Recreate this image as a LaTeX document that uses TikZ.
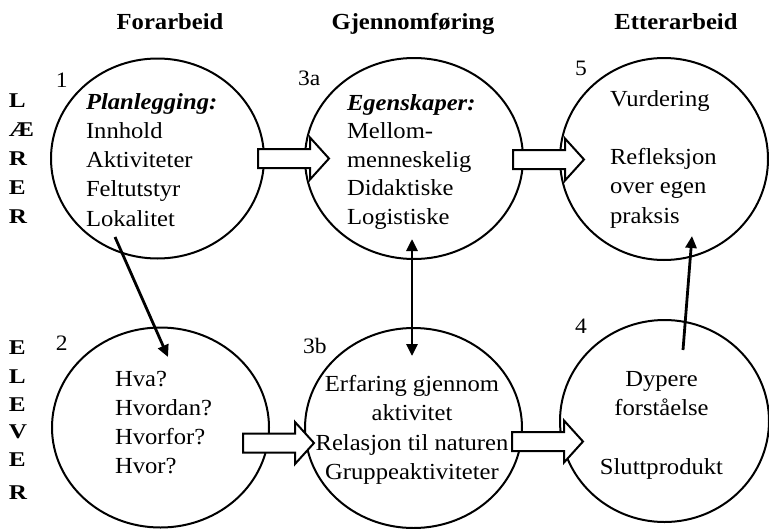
\documentclass[tikz,border=0pt]{standalone}
\usepackage{fontspec}
\setmainfont{Liberation Serif}[FakeStretch=1.07]
\newfontfamily\widebold{Liberation Serif}[FakeStretch=1.2]
\usetikzlibrary{shapes.geometric,arrows.meta}

\tikzset{
  bubble/.style 2 args={ellipse, draw, line width=2pt, minimum width=#1pt, minimum height=#2pt},
  body/.style={font=\fontsize{23}{28}\selectfont},
  heading/.style={font=\fontsize{23}{28}\selectfont\bfseries, anchor=base},
  sideletter/.style={font=\fontsize{21}{24}\selectfont\widebold\bfseries, anchor=base west},
  stepno/.style={font=\fontsize{22}{26}\selectfont, anchor=base west},
  linkarrow/.style={line width=2.8pt, -{Triangle[length=12pt,width=11pt]}},
  fatarrow/.pic={
    \draw[line width=2pt, fill=white, line join=miter]
      (0,-9.5) -- (52,-9.5) -- (52,-21) -- (71,0) -- (52,21) -- (52,9.5) -- (0,9.5) -- cycle;
  }
}

\begin{document}
\begin{tikzpicture}[x=1pt, y=-1pt, every node/.style={inner sep=0pt, outer sep=0pt}]
\useasboundingbox (0,0) rectangle (769,528);

% column headings
\node[heading] (hfor) at (170,29) {Forarbeid};
\node[heading] (hgjen) at (413,29) {Gjennomføring};
\node[heading] (hett) at (676,29) {Etterarbeid};

% row labels
\foreach \ch/\yy [count=\i] in {L/107, Æ/136, R/165, E/194, R/223}
  \node[sideletter] (lr\i) at (9,\yy) {\ch};
\foreach \ch/\yy [count=\i] in {E/354, L/383, E/411, V/438, E/466, R/499}
  \node[sideletter] (el\i) at (9,\yy) {\ch};

% the six stages
\node[bubble={213}{200}] (c1) at (157.5,158.5) {};
\node[bubble={218}{201}] (c3a) at (414,158.5) {};
\node[bubble={208}{202}] (c5) at (664,159) {};
\node[bubble={217}{200}] (c2) at (160.5,427.5) {};
\node[bubble={217}{200}] (c3b) at (413.5,428) {};
\node[bubble={209}{202}] (c4) at (664.5,421) {};

% stage numbers
\node[stepno] (n1) at (56,87) {1};
\node[stepno] (n3a) at (298,85) {3a};
\node[stepno] (n5) at (575,75) {5};
\node[stepno] (n2) at (56,350) {2};
\node[stepno] (n3b) at (303,353) {3b};
\node[stepno] (n4) at (575,333) {4};

% texts inside the stages
\foreach \t [count=\i] in {{\bfseries\itshape Planlegging:}, Innhold, Aktiviteter, Feltutstyr, Lokalitet}
  \node[body, anchor=base west] (t1-\i) at (86,{109+29.3*(\i-1)}) {\t};
\foreach \t [count=\i] in {{\bfseries\itshape Egenskaper:}, Mellom-, menneskelig, Didaktiske, Logistiske}
  \node[body, anchor=base west] (t3a-\i) at (347,{110+28.6*(\i-1)}) {\t};
\node[body, anchor=base west] (t5-0) at (610,106) {Vurdering};
\foreach \t [count=\i] in {Refleksjon, over egen, praksis}
  \node[body, anchor=base west] (t5-\i) at (610,{164.5+29.25*(\i-1)}) {\t};
\foreach \t [count=\i] in {Hva?, Hvordan?, Hvorfor?, Hvor?}
  \node[body, anchor=base west] (t2-\i) at (115,{386+29*(\i-1)}) {\t};
\foreach \t [count=\i] in {Erfaring gjennom, aktivitet, Relasjon til naturen, Gruppeaktiviteter}
  \node[body, anchor=base] (t3b-\i) at (412,{391+29.6*(\i-1)}) {\t};
\node[body, anchor=base] (t4-1) at (661.5,386) {Dypere};
\node[body, anchor=base] (t4-2) at (661.5,415) {forståelse};
\node[body, anchor=base] (t4-3) at (661.5,474) {Sluttprodukt};

% hollow flow arrows between neighbouring stages
\pic at (258,158.5) {fatarrow};
\pic at (513,159.5) {fatarrow};
\pic at (243,443) {fatarrow};
\pic at (512,441.5) {fatarrow};

% thin links between the rows
\coordinate (a1) at (115,237);
\coordinate (a2) at (168,357);
\coordinate (b1) at (412,239);
\coordinate (b2) at (412,356);
\coordinate (d4) at (683,350);
\coordinate (d5) at (692,236);
\draw[linkarrow] (a1) -- (a2);
\draw[linkarrow, {Triangle[length=12pt,width=11pt]}-{Triangle[length=12pt,width=11pt]}] (b1) -- (b2);
\draw[linkarrow] (d4) -- (d5);
\end{tikzpicture}
\end{document}
